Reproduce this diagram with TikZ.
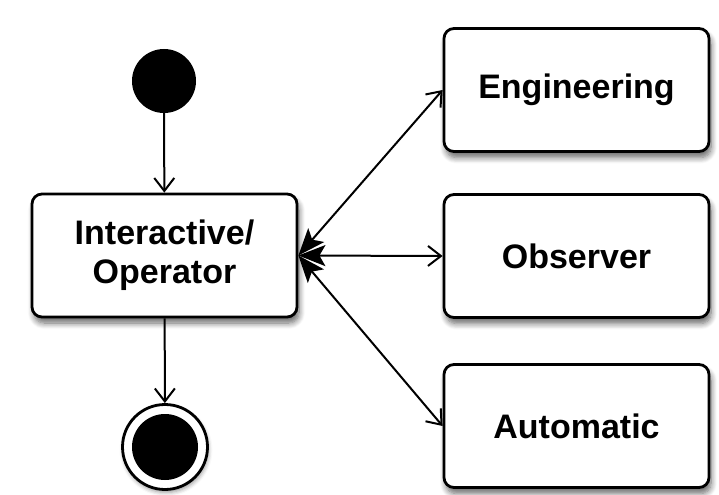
\documentclass[tikz,border=0pt]{standalone}
\usepackage{fontspec}
\setmainfont{Liberation Sans}
\usetikzlibrary{arrows.meta,shadows.blur}

\begin{document}
\begin{tikzpicture}[x=1bp,y=-1bp]

  \tikzstyle{every node}=[font=\fontsize{34bp}{39bp}\selectfont\bfseries,align=center,inner sep=0pt]
  \tikzstyle{state}=[draw,line width=2.8bp,rounded corners=10bp,fill=white,
    minimum width=265bp,minimum height=123bp,
    blur shadow={shadow xshift=2bp,shadow yshift=-6bp,shadow blur radius=6bp,
      shadow blur steps=8,shadow opacity=60}]
  \tikzstyle{flow}=[line width=2bp,-{Straight Barb[length=13bp,width=20bp]}]
  \useasboundingbox (0,0) rectangle (719,495);

  \node[circle,fill=black,minimum size=64bp] (n0) at (164,81) {};
  \node[state] (n1) at (164.5,255.5) {Interactive/\\Operator};
  \node[state] (n2) at (576.5,90) {Engineering};
  \node[state] (n3) at (576.5,256) {Observer};
  \node[state] (n4) at (576.5,426) {Automatic};
  \node[circle,draw,line width=2.8bp,fill=white,minimum size=85bp,
    blur shadow={shadow xshift=1bp,shadow yshift=-3bp,shadow blur radius=4bp}] (n5) at (165,447) {};
  \node[circle,fill=black,minimum size=66bp] (n6) at (n5) {};

  \draw[flow] (n0) -- (n1);
  \draw[flow] (n1) -- (n5);

  \foreach \to in {n2,n3,n4}
    \draw[flow,{Stealth[length=27bp,width=21bp,inset=6bp]}-{Straight Barb[length=13bp,width=20bp]}]
      (n1.east) -- (\to.west);

\end{tikzpicture}
\end{document}
